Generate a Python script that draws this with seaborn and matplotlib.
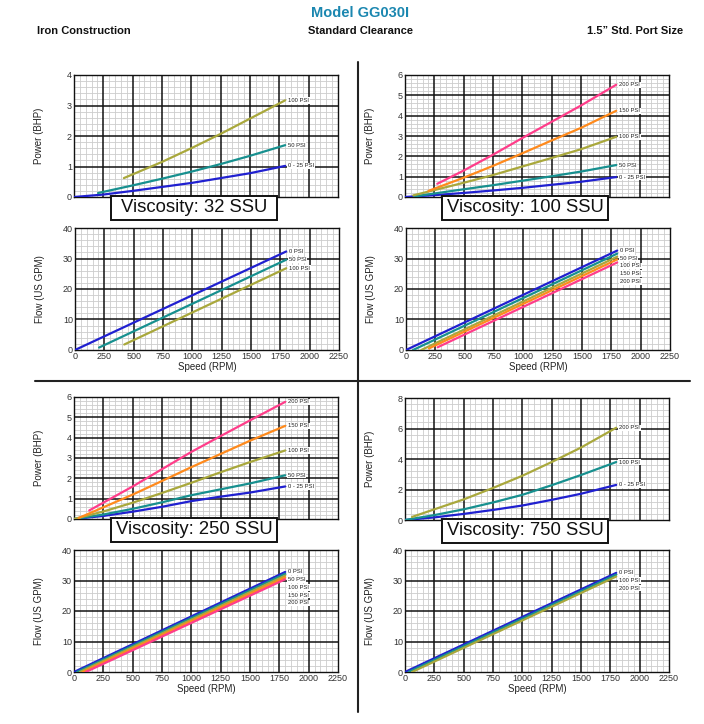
import numpy as np
import pandas as pd
import matplotlib
matplotlib.use("Agg")
import matplotlib.pyplot as plt
from matplotlib.patches import Rectangle
from matplotlib.lines import Line2D
from matplotlib.ticker import MultipleLocator
import seaborn as sns

# Values: (speed RPM, value)
# --- 32 SSU ---
ssu32_power = {
    "0 - 25 PSI": ([0, 250, 500, 750, 1000, 1250, 1500, 1800], [0, 0.08, 0.2, 0.33, 0.46, 0.62, 0.78, 1.02]),
    "50 PSI": ([205, 500, 750, 1000, 1250, 1500, 1800], [0.13, 0.38, 0.6, 0.83, 1.08, 1.35, 1.7]),
    "100 PSI": ([425, 750, 1000, 1250, 1500, 1800], [0.62, 1.15, 1.6, 2.07, 2.57, 3.17]),
}
ssu32_flow = {
    "0 PSI": ([0, 1800], [0, 32.3]),
    "50 PSI": ([205, 1800], [0.8, 29.6]),
    "100 PSI": ([420, 1800], [1.8, 26.8]),
}
# --- 100 SSU ---
ssu100_power = {
    "0 - 25 PSI": ([0, 250, 500, 750, 1000, 1250, 1500, 1800], [0, 0.09, 0.2, 0.32, 0.45, 0.6, 0.75, 0.98]),
    "50 PSI": ([80, 500, 750, 1000, 1250, 1500, 1800], [0.03, 0.38, 0.58, 0.8, 1.02, 1.25, 1.57]),
    "100 PSI": ([70, 500, 750, 1000, 1250, 1500, 1800], [0.08, 0.7, 1.08, 1.5, 1.92, 2.35, 2.96]),
    "150 PSI": ([200, 500, 750, 1000, 1250, 1500, 1800], [0.3, 0.95, 1.53, 2.15, 2.78, 3.4, 4.24]),
    "200 PSI": ([275, 500, 750, 1000, 1250, 1500, 1800], [0.65, 1.3, 2.08, 2.9, 3.7, 4.5, 5.52]),
}
ssu100_flow = {
    "0 PSI": ([0, 1800], [0, 32.6]),
    "50 PSI": ([60, 1800], [0, 31.6]),
    "100 PSI": ([130, 1800], [0, 30.6]),
    "150 PSI": ([195, 1800], [0.5, 29.7]),
    "200 PSI": ([270, 1800], [0.9, 28.7]),
}
# --- 250 SSU ---
ssu250_power = {
    "0 - 25 PSI": ([0, 250, 500, 750, 1000, 1250, 1500, 1800], [0, 0.15, 0.36, 0.6, 0.88, 1.1, 1.3, 1.6]),
    "50 PSI": ([0, 250, 500, 750, 1000, 1250, 1500, 1800], [0, 0.22, 0.5, 0.82, 1.17, 1.46, 1.75, 2.15]),
    "100 PSI": ([0, 250, 500, 750, 1000, 1250, 1500, 1800], [0, 0.37, 0.8, 1.28, 1.78, 2.3, 2.8, 3.37]),
    "150 PSI": ([40, 500, 750, 1000, 1250, 1500, 1800], [0.05, 1.2, 1.87, 2.55, 3.2, 3.85, 4.58]),
    "200 PSI": ([130, 500, 750, 1000, 1250, 1500, 1800], [0.42, 1.6, 2.45, 3.3, 4.08, 4.85, 5.76]),
}
ssu250_flow = {
    "0 PSI": ([0, 1800], [0, 32.8]),
    "50 PSI": ([25, 1800], [0, 32.2]),
    "100 PSI": ([50, 1800], [0, 31.6]),
    "150 PSI": ([75, 1800], [0, 31.0]),
    "200 PSI": ([100, 1800], [0, 30.4]),
}
# --- 750 SSU ---
ssu750_power = {
    "0 - 25 PSI": ([0, 250, 500, 750, 1000, 1250, 1500, 1800], [0, 0.17, 0.4, 0.66, 0.95, 1.32, 1.72, 2.3]),
    "100 PSI": ([0, 250, 500, 750, 1000, 1250, 1500, 1800], [0, 0.32, 0.7, 1.15, 1.65, 2.28, 2.95, 3.8]),
    "200 PSI": ([60, 250, 500, 750, 1000, 1250, 1500, 1800], [0.2, 0.7, 1.35, 2.1, 2.9, 3.8, 4.75, 6.05]),
}
ssu750_flow = {
    "0 PSI": ([0, 1800], [0, 32.5]),
    "100 PSI": ([30, 1800], [0, 31.9]),
    "200 PSI": ([60, 1800], [0, 31.3]),
}

viscosities = ["32", "100", "250", "750"]
power_max = [4, 6, 6, 8]
power_step = [1, 1, 1, 2]
line_colors = ["#2020d0", "#17908f", "#a9a83c", "#ff8a1c", "#ff3d8a"]

sns.set_style("white")
plt.rcParams["font.family"] = ["Liberation Sans", "DejaVu Sans"]

W, H = 704, 724
fig = plt.figure(figsize=(W / 100, H / 100), dpi=100)


def rect(left, top, w=264, h=122):
    return [left / W, 1 - (top + h) / H, w / W, h / H]


def to_long(series):
    rows = []
    for name, (xs, ys) in series.items():
        for x, y in zip(xs, ys):
            rows.append({"rpm": x, "value": y, "series": name})
    return pd.DataFrame(rows)


def draw(ax, series, ymax, ystep, ylabel, show_x):
    names = list(series)
    df = to_long(series)
    sns.lineplot(data=df, x="rpm", y="value", hue="series", hue_order=names,
                 palette=line_colors[:len(names)], estimator=None, sort=False,
                 linewidth=1.6, legend=False, ax=ax, zorder=3)
    ax.set_xlim(0, 2250)
    ax.set_ylim(0, ymax)
    ax.xaxis.set_major_locator(MultipleLocator(250))
    ax.xaxis.set_minor_locator(MultipleLocator(50))
    ax.yaxis.set_major_locator(MultipleLocator(ystep))
    ax.yaxis.set_minor_locator(MultipleLocator(ystep / 5))
    ax.set_axisbelow(True)
    ax.grid(which="minor", color="#cccccc", lw=0.6)
    # major grid drawn on top of the minor one so it stays unbroken
    for v in np.arange(250, 2250, 250):
        ax.axvline(v, color="#111111", lw=1.1, zorder=1)
    for v in np.arange(ystep, ymax, ystep):
        ax.axhline(v, color="#111111", lw=1.1, zorder=1)
    for s in ax.spines.values():
        s.set_color("#111111")
        s.set_linewidth(1.0)
    ax.tick_params(which="both", length=0, labelsize=6.5, labelcolor="#333333", pad=1.5)
    if show_x:
        ax.set_xlabel("Speed (RPM)", fontsize=7, color="#222222")
        ax.xaxis.set_label_coords(0.5, -0.095)
    else:
        ax.set_xlabel("")
        ax.set_xticklabels([])
    ax.set_ylabel(ylabel, fontsize=7, color="#222222")
    ax.yaxis.set_label_coords(-0.112, 0.5)

    # end-of-line labels, top line first, stacked when the lines end close together
    step = ymax * 7.7 / 122
    prev = 1e9
    for name in sorted(names, key=lambda n: -series[n][1][-1]):
        xs, ys = series[name]
        ly = min(ys[-1], prev - step)
        prev = ly
        ax.text(xs[-1] + 25, ly, name, fontsize=4.2, ha="left", va="center", color="#222222",
                bbox=dict(fc="white", ec="none", pad=0.5), zorder=5)


panels = [
    (ssu32_power, ssu32_flow, 74, 75, 75, 228),
    (ssu100_power, ssu100_flow, 405, 75, 406, 228),
    (ssu250_power, ssu250_flow, 74, 397, 74, 550),
    (ssu750_power, ssu750_flow, 405, 398, 405, 550),
]

for i, (pw, fl, pl, pt, fl_l, fl_t) in enumerate(panels):
    axp = fig.add_axes(rect(pl, pt))
    draw(axp, pw, power_max[i], power_step[i], "Power (BHP)", False)
    axf = fig.add_axes(rect(fl_l, fl_t))
    draw(axf, fl, 40, 10, "Flow (US GPM)", True)
    # viscosity box straddling the bottom of the power chart
    box = Rectangle((0.14, -0.19), 0.63, 0.2, transform=axp.transAxes, fc="white",
                    ec="#111111", lw=1.4, clip_on=False, zorder=10)
    axp.add_patch(box)
    axp.text(0.455, -0.09, f"Viscosity: {viscosities[i]} SSU", transform=axp.transAxes,
             ha="center", va="center", fontsize=13.3, color="#111111", zorder=11, clip_on=False)

# separators
fig.add_artist(Line2D([358 / W, 358 / W], [1 - 62 / H, 1 - 712 / H], color="#222222", lw=1.5))
fig.add_artist(Line2D([35 / W, 690 / W], [1 - 381 / H, 1 - 381 / H], color="#222222", lw=1.5))

# header
fig.text(360 / W, 1 - 13 / H, "Model GG030I", ha="center", va="center", fontsize=10.5,
         fontweight="bold", color="#1b87b0")
fig.text(37 / W, 1 - 31 / H, "Iron Construction", ha="left", va="center", fontsize=8,
         fontweight="bold", color="#111111")
fig.text(360 / W, 1 - 31 / H, "Standard Clearance", ha="center", va="center", fontsize=8,
         fontweight="bold", color="#111111")
fig.text(683 / W, 1 - 31 / H, "1.5\u201d Std. Port Size", ha="right", va="center", fontsize=8,
         fontweight="bold", color="#111111")

fig.savefig("out.png", dpi=100, facecolor="white")
